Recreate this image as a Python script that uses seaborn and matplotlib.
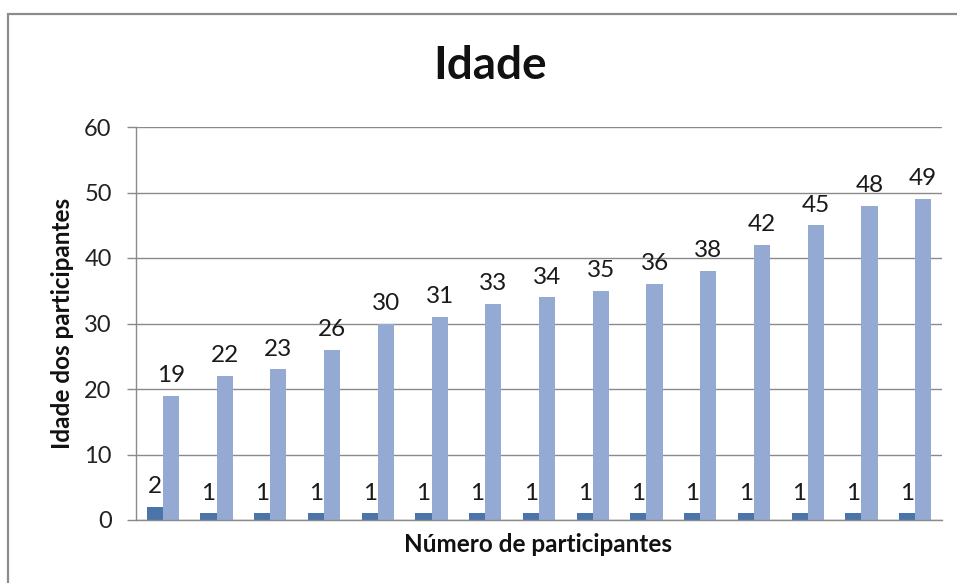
import matplotlib
matplotlib.use("Agg")
import matplotlib.pyplot as plt
import seaborn as sns
import pandas as pd
from matplotlib.patches import Rectangle

# Data
categorias = [str(i) for i in range(1, 16)]
numero_participantes = [2, 1, 1, 1, 1, 1, 1, 1, 1, 1, 1, 1, 1, 1, 1]
idades = [19, 22, 23, 26, 30, 31, 33, 34, 35, 36, 38, 42, 45, 48, 49]
series_nomes = ["Número de participantes", "Idade"]
cores = ["#4A74AA", "#95AAD3"]
y_ticks = [0, 10, 20, 30, 40, 50, 60]

df = pd.DataFrame({
    "categoria": categorias * 2,
    "serie": [series_nomes[0]] * len(categorias) + [series_nomes[1]] * len(categorias),
    "valor": numero_participantes + idades,
})

sns.set_theme(style="white")
plt.rcParams["font.family"] = ["Lato", "DejaVu Sans"]

W, H = 957, 583
fig = plt.figure(figsize=(W / 100, H / 100), dpi=100)
ax = fig.add_axes([136 / W, (H - 520) / H, (942 - 136) / W, (520 - 127) / H])

sns.barplot(data=df, x="categoria", y="valor", hue="serie", order=categorias,
            hue_order=series_nomes, palette=cores, width=0.6, saturation=1,
            edgecolor="none", legend=False, ax=ax)

for cont in ax.containers:
    ax.bar_label(cont, padding=7, fontsize=17.5, color="#1a1a1a")

ax.set_ylim(0, 60)
ax.set_yticks(y_ticks)
ax.set_xlim(-0.5, len(categorias) - 0.5)
ax.set_xticks([])
ax.yaxis.grid(True, color="#8a8a8a", linewidth=1.0)
ax.set_axisbelow(True)
for s in ["top", "right"]:
    ax.spines[s].set_visible(False)
for s in ["left", "bottom"]:
    ax.spines[s].set_color("#8a8a8a")
    ax.spines[s].set_linewidth(1.0)
ax.tick_params(axis="y", which="major", left=True, length=6.5, width=1.0,
               color="#8a8a8a", labelsize=17, labelcolor="#222222", pad=11)
ax.set_xlabel("")
ax.set_ylabel("")

fig.text(538 / W, 1 - 545 / H, "Número de participantes", ha="center", va="center",
         fontsize=17.5, fontweight="bold", color="#111111")
fig.text(62 / W, 1 - 323 / H, "Idade dos participantes", ha="center", va="center",
         rotation=90, fontsize=17.5, fontweight="bold", color="#111111")
fig.text(490 / W, 1 - 66 / H, "Idade", ha="center", va="center",
         fontsize=33, fontweight="bold", color="#111111")

fig.patches.append(Rectangle((8 / W, -0.1), 1.2, (H - 14) / H + 0.1,
                             transform=fig.transFigure, fill=False,
                             edgecolor="#8c8c8c", linewidth=1.6))

fig.savefig("out.png", dpi=100)
